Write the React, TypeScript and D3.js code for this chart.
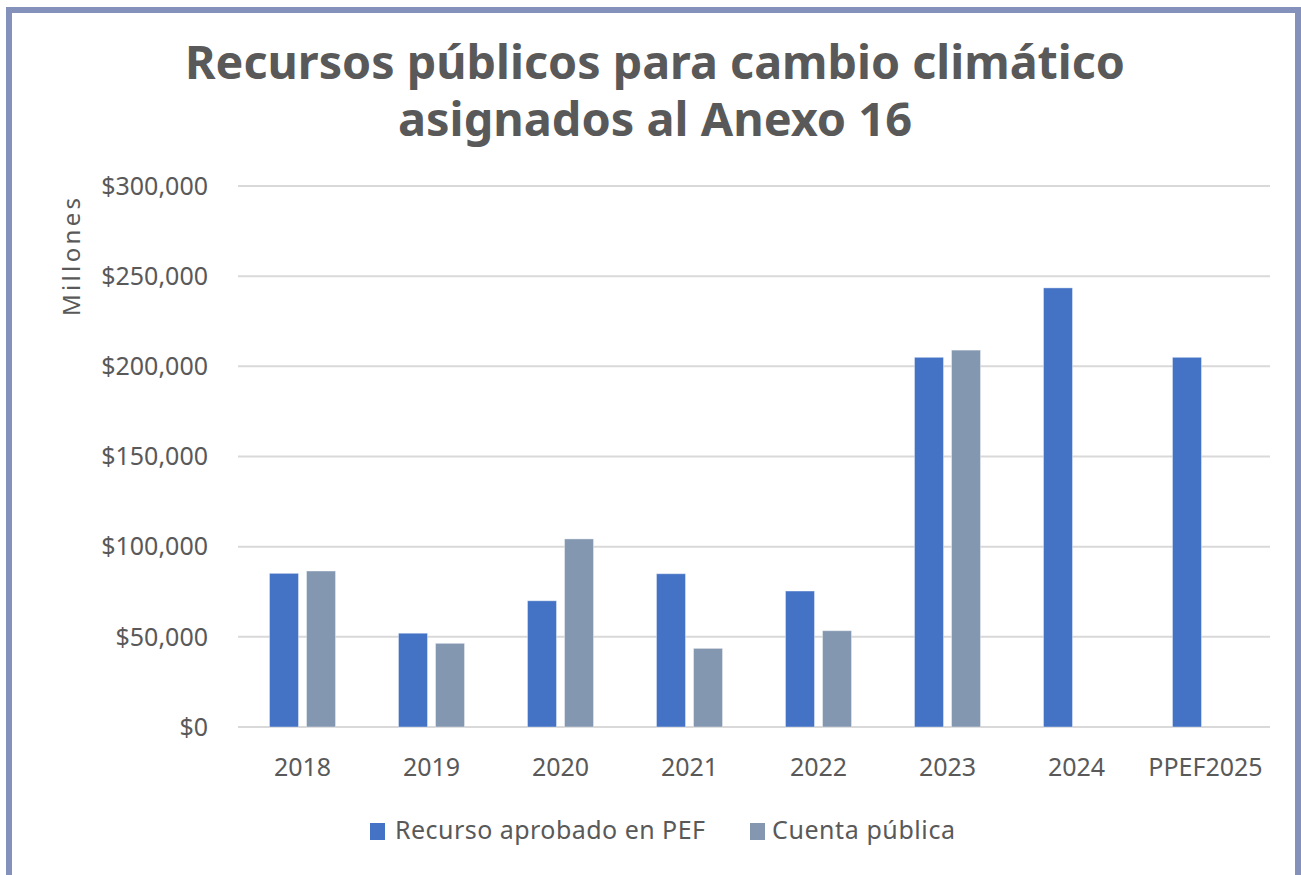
import React from 'react';
import * as d3 from 'd3';

const categories = ['2018', '2019', '2020', '2021', '2022', '2023', '2024', 'PPEF2025'];
const aprobadoPEF = [85200, 52000, 70000, 85000, 75400, 205000, 243500, 205000];
const cuentaPublica: (number | null)[] = [86500, 46400, 104300, 43600, 53400, 209000, null, null];
const yTicks = [0, 50000, 100000, 150000, 200000, 250000, 300000];
const seriesNames = ['Recurso aprobado en PEF', 'Cuenta pública'];
const seriesColors = ['#4472C4', '#8497B0'];

const W = 1301;
const H = 875;
const margin = { top: 186, right: 31, bottom: 148, left: 238 };

const App: React.FC = () => {
  const innerTop = margin.top;
  const innerBottom = H - margin.bottom;
  const left = margin.left;
  const right = W - margin.right;

  const y = d3.scaleLinear().domain([0, 300000]).range([innerBottom, innerTop]);
  const x0 = d3.scaleBand<string>().domain(categories).range([left, right]).padding(0);
  const x1 = d3.scaleBand<string>()
    .domain(['pef', 'cp'])
    .range([0, x0.bandwidth()])
    .paddingInner(0.216)
    .paddingOuter(0.85);

  const fmt = (v: number) => '$' + d3.format(',')(v);
  const font = '"Noto Sans", "Open Sans", sans-serif';
  const grey = '#595959';

  return (
    <svg width={W} height={H} style={{ position: 'absolute', left: 0, top: 0, background: '#fff' }}>
      {/* frame */}
      <rect x={9} y={10} width={1289} height={H + 20} fill="none" stroke="#8391BB" strokeWidth={6} />

      {/* title */}
      <g fill={grey} fontFamily='"Century Gothic", "Noto Sans", sans-serif' fontWeight="bold" fontSize={46} textAnchor="middle">
        <text x={655} y={79} textLength={940} lengthAdjust="spacingAndGlyphs">Recursos públicos para cambio climático</text>
        <text x={655} y={136} textLength={514} lengthAdjust="spacingAndGlyphs">asignados al Anexo 16</text>
      </g>

      {/* gridlines and y ticks */}
      {yTicks.map(t => (
        <g key={t}>
          <line x1={left} x2={right} y1={y(t)} y2={y(t)} stroke="#D9D9D9" strokeWidth={2} />
          <text x={208} y={y(t)} dy="0.35em" textAnchor="end" fontFamily={font} fontSize={25} fill={grey}>
            {fmt(t)}
          </text>
        </g>
      ))}

      {/* y axis title */}
      <text
        transform={`translate(80,${(198 + 316) / 2}) rotate(-90)`}
        textAnchor="middle"
        fontFamily={font}
        fontSize={24}
        textLength={118}
        lengthAdjust="spacing"
        fill={grey}
      >
        Millones
      </text>

      {/* bars */}
      {categories.map((c, i) => {
        const gx = x0(c)!;
        const pef = aprobadoPEF[i];
        const cp = cuentaPublica[i];
        return (
          <g key={c}>
            <rect
              x={gx + x1('pef')!}
              y={y(pef)}
              width={x1.bandwidth()}
              height={y(0) - y(pef)}
              fill={seriesColors[0]}
              stroke="#fff"
              strokeOpacity={0.4}
              strokeWidth={1}
            />
            {cp != null && (
              <rect
                x={gx + x1('cp')!}
                y={y(cp)}
                width={x1.bandwidth()}
                height={y(0) - y(cp)}
                fill={seriesColors[1]}
                stroke="#fff"
                strokeOpacity={0.4}
                strokeWidth={1}
              />
            )}
            <text
              x={gx + x0.bandwidth() / 2}
              y={776}
              textAnchor="middle"
              fontFamily={font}
              fontSize={25}
              fill={grey}
            >
              {c}
            </text>
          </g>
        );
      })}

      {/* legend */}
      <g fontFamily={font} fontSize={25} fill={grey}>
        <rect x={370} y={823} width={15} height={17} fill={seriesColors[0]} />
        <text x={395} y={839} textLength={310} lengthAdjust="spacing">{seriesNames[0]}</text>
        <rect x={750} y={823} width={15} height={17} fill={seriesColors[1]} />
        <text x={772} y={839} textLength={183} lengthAdjust="spacing">{seriesNames[1]}</text>
      </g>
    </svg>
  );
};

export default App;
